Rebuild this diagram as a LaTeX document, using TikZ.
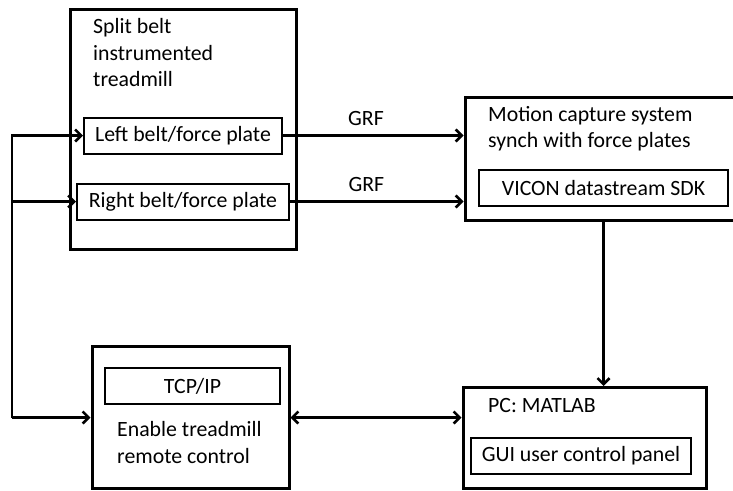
\documentclass[tikz,border=0pt]{standalone}
\usepackage{fontspec}
\setmainfont{Carlito}
\usetikzlibrary{arrows.meta}

\begin{document}
\begin{tikzpicture}[x=1pt, y=-1pt,
  >={Straight Barb[length=6pt, width=12pt]},
  outerbox/.style={draw, line width=3pt, inner sep=0pt},
  innerbox/.style={draw, line width=2pt, inner sep=0pt, minimum height=36pt},
  caption/.style={align=left, inner sep=0pt, anchor=west},
  arr/.style={line width=2.6pt, ->},
  every node/.append style={font=\fontsize{21.8}{26.5}\selectfont}]
\useasboundingbox (0, 0) rectangle (733, 490);
% treadmill
\node[outerbox, minimum width=226pt, minimum height=240pt] (treadmill) at (183, 129) {};
\node[caption] (treadmilltext) at (93, 53) {Split belt\\instrumented\\treadmill};
\node[innerbox, minimum width=198pt] (leftbelt) at (183, 135.5) {Left belt/force plate};
\node[innerbox, minimum width=212pt] (rightbelt) at (183, 201.5) {Right belt/force plate};
% motion capture
\node[outerbox, minimum width=271pt, minimum height=123pt] (mocap) at (600.5, 158.5) {};
\node[caption] (mocaptext) at (488, 128.5) {Motion capture system\\synch with force plates};
\node[innerbox, minimum width=249pt] (vicon) at (603.5, 188) {VICON datastream SDK};
% treadmill control
\node[outerbox, minimum width=197pt, minimum height=142pt] (control) at (190.5, 417.5) {};
\node[innerbox, minimum width=175pt] (tcp) at (192.5, 386) {TCP/IP};
\node[caption] (controltext) at (117, 442.5) {Enable treadmill\\remote control};
% pc
\node[outerbox, minimum width=243pt, minimum height=101pt] (pc) at (584.5, 438) {};
\node[caption] (pctext) at (488, 406) {PC: MATLAB};
\node[innerbox, minimum width=220pt] (gui) at (581, 456) {GUI user control panel};

\coordinate (bus) at (12, 417.5);
\draw[arr] (bus) |- (leftbelt.west);
\draw[arr] (bus |- rightbelt.west) -- (rightbelt.west);
\draw[arr] (bus) -- (control.west);
\draw[arr] (leftbelt.east) -- (leftbelt.east -| mocap.west) node[pos=0.46, above=5pt]{GRF};
\draw[arr] (rightbelt.east) -- (rightbelt.east -| mocap.west) node[pos=0.44, above=5pt]{GRF};
\draw[arr] (vicon.south |- mocap.south) -- (vicon.south |- pc.north);
\draw[arr, <->] (control.east) -- (control.east -| pc.west);
\end{tikzpicture}
\end{document}
